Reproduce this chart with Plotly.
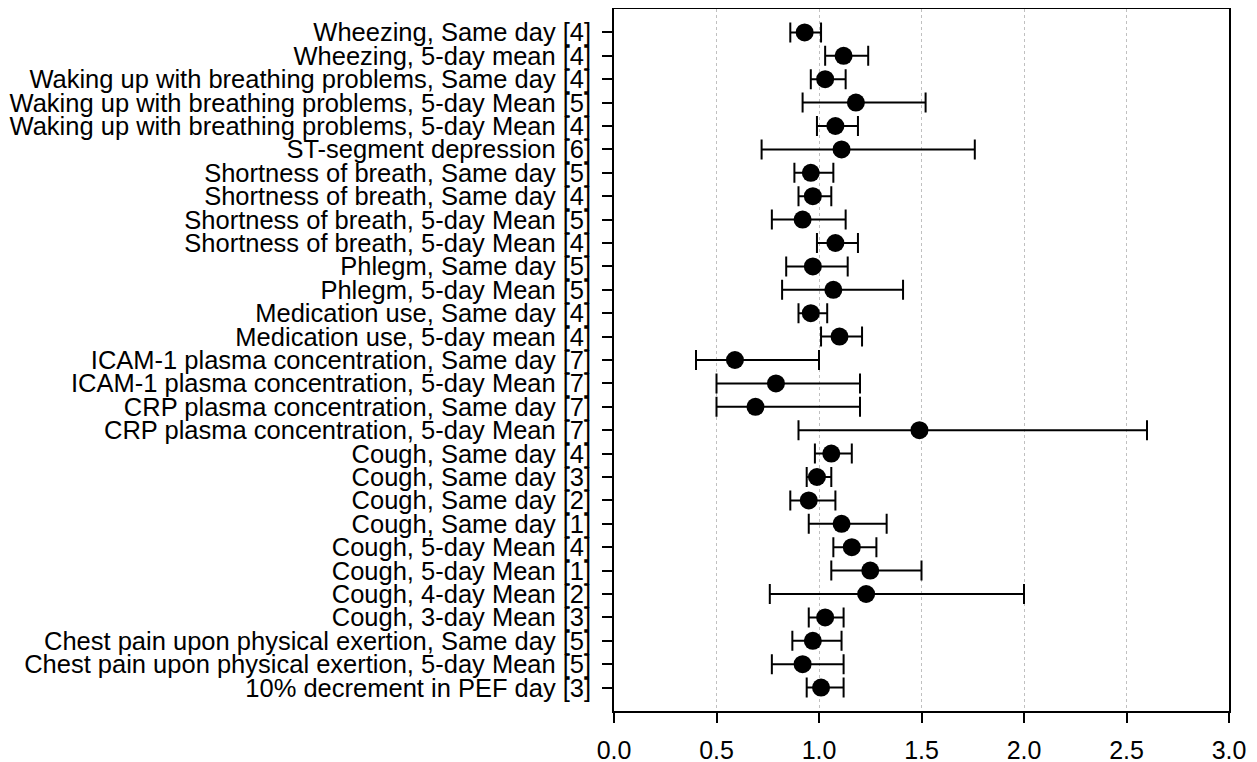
import plotly.graph_objects as go

# Rows listed from top to bottom as in the reference
labels = [
    "Wheezing, Same day [4]",
    "Wheezing, 5-day mean [4]",
    "Waking up with breathing problems, Same day [4]",
    "Waking up with breathing problems, 5-day Mean [5]",
    "Waking up with breathing problems, 5-day Mean [4]",
    "ST-segment depression [6]",
    "Shortness of breath, Same day [5]",
    "Shortness of breath, Same day [4]",
    "Shortness of breath, 5-day Mean [5]",
    "Shortness of breath, 5-day Mean [4]",
    "Phlegm, Same day [5]",
    "Phlegm, 5-day Mean [5]",
    "Medication use, Same day [4]",
    "Medication use, 5-day mean [4]",
    "ICAM-1 plasma concentration, Same day [7]",
    "ICAM-1 plasma concentration, 5-day Mean [7]",
    "CRP plasma concentration, Same day [7]",
    "CRP plasma concentration, 5-day Mean [7]",
    "Cough, Same day [4]",
    "Cough, Same day [3]",
    "Cough, Same day [2]",
    "Cough, Same day [1]",
    "Cough, 5-day Mean [4]",
    "Cough, 5-day Mean [1]",
    "Cough, 4-day Mean [2]",
    "Cough, 3-day Mean [3]",
    "Chest pain upon physical exertion, Same day [5]",
    "Chest pain upon physical exertion, 5-day Mean [5]",
    "10% decrement in PEF day [3]",
]

estimate = [0.93, 1.12, 1.03, 1.18, 1.08, 1.11, 0.96, 0.97, 0.92, 1.08,
            0.97, 1.07, 0.96, 1.10, 0.59, 0.79, 0.69, 1.49, 1.06, 0.99,
            0.95, 1.11, 1.16, 1.25, 1.23, 1.03, 0.97, 0.92, 1.01]
lower = [0.86, 1.03, 0.96, 0.92, 0.99, 0.72, 0.88, 0.90, 0.77, 0.99,
         0.84, 0.82, 0.90, 1.01, 0.40, 0.50, 0.50, 0.90, 0.98, 0.94,
         0.86, 0.95, 1.07, 1.06, 0.76, 0.95, 0.87, 0.77, 0.94]
upper = [1.01, 1.24, 1.13, 1.52, 1.19, 1.76, 1.07, 1.06, 1.13, 1.19,
         1.14, 1.41, 1.04, 1.21, 1.00, 1.20, 1.20, 2.60, 1.16, 1.06,
         1.08, 1.33, 1.28, 1.50, 2.00, 1.12, 1.11, 1.12, 1.12]

x_ticks = [0.0, 0.5, 1.0, 1.5, 2.0, 2.5, 3.0]

err_plus = [u - e for u, e in zip(upper, estimate)]
err_minus = [e - l for e, l in zip(estimate, lower)]

FONT = "Liberation Sans, Arial, Helvetica, sans-serif"

fig = go.Figure()
fig.add_trace(go.Scatter(
    x=estimate,
    y=labels,
    mode="markers",
    marker=dict(color="black", size=18),
    error_x=dict(type="data", symmetric=False, array=err_plus,
                 arrayminus=err_minus, color="black", thickness=2, width=10),
    showlegend=False,
    hoverinfo="x+y",
))

# page body has an 8px margin, so the figure is 8px smaller each way
fig.update_layout(
    width=1249, height=754,
    margin=dict(l=606, r=28, t=1, b=51, autoexpand=False),
    paper_bgcolor="white", plot_bgcolor="white",
    font=dict(family=FONT, size=25, color="black"),
)
fig.update_xaxes(
    range=[0, 3], tickmode="array", tickvals=x_ticks,
    ticktext=[f"{v:.1f}" for v in x_ticks], automargin=False,
    showgrid=True, gridcolor="#c0c0c0", griddash="dot", gridwidth=1,
    zeroline=False, showline=True, mirror=True, linecolor="black", linewidth=1.5,
    ticks="outside", ticklen=10, tickwidth=1.5, tickcolor="black",
    ticklabelstandoff=6, tickfont=dict(size=25),
)
fig.update_yaxes(
    type="category", categoryorder="array", categoryarray=labels[::-1],
    tickmode="array", tickvals=labels, ticktext=labels, automargin=False,
    range=[-1, 29], showgrid=False, zeroline=False,
    showline=True, mirror=True, linecolor="black", linewidth=1.5,
    ticks="outside", ticklen=10, tickwidth=1.5, tickcolor="black",
    ticklabelstandoff=6, tickfont=dict(size=25.5),
)

fig.write_html("out.html")
